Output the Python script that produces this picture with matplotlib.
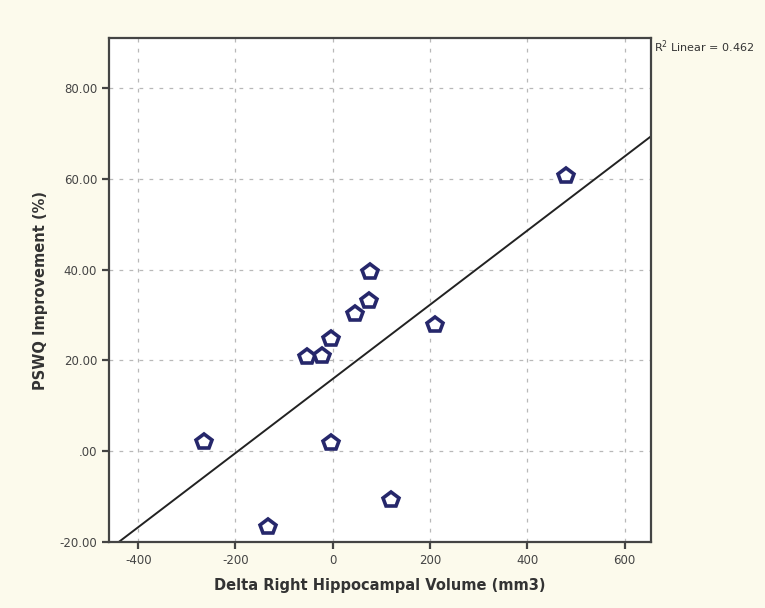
import numpy as np
import matplotlib
matplotlib.use("Agg")
import matplotlib.pyplot as plt
from matplotlib.ticker import FuncFormatter

plt.rcParams["axes.unicode_minus"] = False

# Data
delta_volume = [-265, -133, -53, -22, -4, -4, 46, 74, 76, 120, 210, 479]
pswq_improvement = [2.0, -16.7, 20.8, 21.0, 24.8, 1.8, 30.3, 33.0, 39.4, -10.7, 27.7, 60.6]
x_ticks = [-400, -200, 0, 200, 400, 600]
y_ticks = [-20, 0, 20, 40, 60, 80]
r2_label = "R$^2$ Linear = 0.462"

x = np.array(delta_volume, dtype=float)
y = np.array(pswq_improvement, dtype=float)
slope, intercept = np.polyfit(x, y, 1)

fig = plt.figure(figsize=(7.65, 6.08), dpi=100, facecolor="#fcfaec")
ax = fig.add_axes([109 / 765, 1 - 542 / 608, (651 - 109) / 765, (542 - 38) / 608])
ax.set_facecolor("white")

xlim = (-460, 654)
ylim = (-20, 91)
ax.set_xlim(*xlim)
ax.set_ylim(*ylim)

ax.grid(True, linestyle=(0, (3, 5)), color="#b8b8b8", linewidth=0.9)
ax.set_axisbelow(True)

xx = np.array(xlim, dtype=float)
ax.plot(xx, slope * xx + intercept, color="#222222", linewidth=1.4, zorder=2)

ax.plot(x, y, linestyle="none", marker="p", markersize=11.5,
        markerfacecolor="white", markeredgecolor="#26276b", markeredgewidth=2.6, zorder=3)

ax.set_xticks(x_ticks)
ax.set_yticks(y_ticks)

def yfmt(v, pos):
    s = f"{v:.2f}"
    if s == "0.00":
        return ".00"
    return s
ax.yaxis.set_major_formatter(FuncFormatter(yfmt))

for s in ax.spines.values():
    s.set_color("#444444")
    s.set_linewidth(1.6)
ax.tick_params(axis="both", direction="out", length=5, width=1.6, color="#444444",
               labelsize=8.5, labelcolor="#444444")

ax.set_xlabel("Delta Right Hippocampal Volume (mm3)", fontsize=10.5, fontweight="bold",
              color="#333333", labelpad=8)
ax.set_ylabel("PSWQ Improvement (%)", fontsize=10.5, fontweight="bold",
              color="#333333", labelpad=8)

fig.text(654 / 765, 1 - 47 / 608, r2_label, fontsize=8,
         color="#333333", ha="left", va="center")

fig.savefig("out.png", dpi=100, facecolor=fig.get_facecolor())
